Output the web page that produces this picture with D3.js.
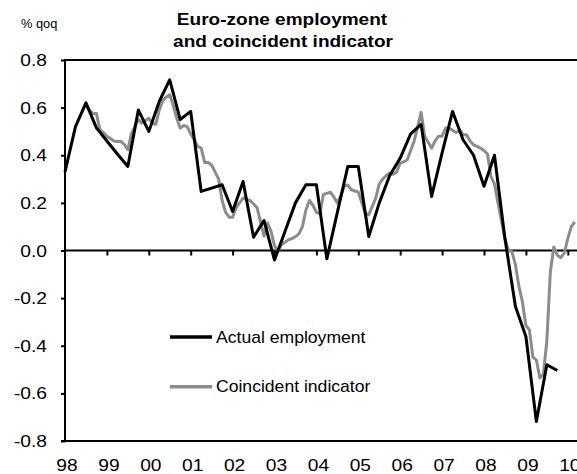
<!DOCTYPE html>
<html>
<head>
<meta charset="utf-8">
<script src="https://cdn.jsdelivr.net/npm/d3@7/dist/d3.min.js"></script>
<style>
  body { margin: 0; background: #fff; }
  text { font-family: "Liberation Sans", Arial, sans-serif; fill: #000; }
</style>
</head>
<body>
<div id="chart"></div>
<script>
// year labels on the x axis, one per January
const yearLabels = ["98", "99", "00", "01", "02", "03", "04", "05", "06", "07", "08", "09", "10"];
const yTicks = [0.8, 0.6, 0.4, 0.2, 0.0, -0.2, -0.4, -0.6, -0.8];

// actual employment, % qoq, quarterly from 1998 Q1
const employment = [
  0.33, 0.52, 0.62, 0.515, 0.46, 0.405, 0.353, 0.59, 0.50, 0.626, 0.717, 0.55,
  0.584, 0.248, 0.262, 0.276, 0.164, 0.29, 0.056, 0.126, -0.04, 0.08, 0.2, 0.276,
  0.276, -0.035, 0.16, 0.353, 0.353, 0.059, 0.2, 0.315, 0.388, 0.49, 0.53, 0.227,
  0.41, 0.584, 0.465, 0.40, 0.27, 0.40, 0.05, -0.235, -0.361, -0.718, -0.48, -0.504
];

// coincident indicator, monthly from July 1998
const indicator = [
  0.61, 0.59, 0.575, 0.575, 0.507, 0.495, 0.48, 0.47, 0.46, 0.458, 0.458, 0.445,
  0.423, 0.49, 0.52, 0.55, 0.535, 0.545, 0.555, 0.535, 0.53, 0.59, 0.63, 0.645,
  0.654, 0.61, 0.555, 0.514, 0.525, 0.52, 0.49, 0.465, 0.437, 0.43, 0.37, 0.37,
  0.358, 0.33, 0.3, 0.21, 0.16, 0.14, 0.14, 0.18, 0.2, 0.22, 0.215, 0.21,
  0.195, 0.18, 0.12, 0.06, 0.115, 0.08, 0.02, -0.005, 0.025, 0.035, 0.045, 0.05,
  0.058, 0.07, 0.1, 0.17, 0.21, 0.19, 0.16, 0.155, 0.235, 0.24, 0.245, 0.225,
  0.2, 0.23, 0.27, 0.275, 0.255, 0.25, 0.245, 0.2, 0.155, 0.15, 0.185, 0.22,
  0.28, 0.3, 0.315, 0.325, 0.32, 0.33, 0.367, 0.372, 0.38, 0.42, 0.46, 0.52,
  0.58, 0.48, 0.455, 0.43, 0.46, 0.48, 0.48, 0.514, 0.514, 0.505, 0.495, 0.505,
  0.487, 0.486, 0.46, 0.444, 0.437, 0.43, 0.42, 0.405, 0.31, 0.28, 0.2, 0.125,
  0.05, 0.0, -0.004, -0.06, -0.15, -0.215, -0.315, -0.333, -0.448, -0.46, -0.535, -0.52,
  -0.38, -0.09, 0.015, -0.02, -0.03, -0.01, 0.05, 0.1, 0.12
];

const seriesNames = ["Actual employment", "Coincident indicator"];
const seriesColors = ["#000000", "#8c8c8c"];

const width = 577, height = 474;
const plot = { left: 65, right: 577, top: 60, bottom: 441 };

const svg = d3.select("#chart").append("svg")
  .attr("width", width)
  .attr("height", height);

const x = d3.scaleLinear().domain([1998, 2010]).range([plot.left, 567.8]);
const y = d3.scaleLinear().domain([-0.8, 0.8]).range([plot.bottom, plot.top]);

// text in the original is a bit stretched sideways, so each label gets its own x scale
function label(g, txt, tx, ty, size, anchor, bold, stretch) {
  return g.append("text")
    .attr("transform", `translate(${tx},${ty}) scale(${stretch},1)`)
    .attr("text-anchor", anchor)
    .style("font-size", size + "px")
    .style("font-weight", bold ? "bold" : "normal")
    .text(txt);
}

// title and unit
label(svg, "Euro-zone employment", 282, 25, 17, "middle", true, 1.12);
label(svg, "and coincident  indicator", 283, 46.5, 17, "middle", true, 1.12);
label(svg, "% qoq", 21, 28, 13.5, "start", false, 0.95);

// y axis with ticks to the left
const yAxis = svg.append("g")
  .attr("transform", `translate(${plot.left},0)`)
  .call(d3.axisLeft(y).tickValues(yTicks).tickSize(4).tickFormat(""));
yAxis.select(".domain").remove();
yAxis.selectAll(".tick line").attr("stroke", "#000").attr("stroke-width", 2);

// plain hyphen for negatives, as in the original
yTicks.forEach(v => {
  label(svg, v.toFixed(1), 47, y(v) + 6, 16, "end", false, 1.2);
});

// frame lines: left axis, top and bottom
svg.append("line").attr("x1", plot.left).attr("x2", plot.left).attr("y1", plot.top - 1).attr("y2", plot.bottom + 1)
  .attr("stroke", "#000").attr("stroke-width", 2);
svg.append("line").attr("x1", plot.left).attr("x2", plot.right).attr("y1", plot.top).attr("y2", plot.top)
  .attr("stroke", "#000").attr("stroke-width", 2);
svg.append("line").attr("x1", plot.left - 4).attr("x2", plot.right).attr("y1", plot.bottom).attr("y2", plot.bottom)
  .attr("stroke", "#000").attr("stroke-width", 2);

// x axis on the zero line, ticks pointing down
const years = d3.range(1999, 2011);
const xAxis = svg.append("g")
  .attr("transform", `translate(0,${y(0)})`)
  .call(d3.axisBottom(x).tickValues(years).tickSize(5).tickFormat(""));
xAxis.select(".domain").remove();
xAxis.selectAll(".tick line").attr("stroke", "#000").attr("stroke-width", 2);
svg.append("line").attr("x1", plot.left).attr("x2", plot.right).attr("y1", y(0)).attr("y2", y(0))
  .attr("stroke", "#000").attr("stroke-width", 2);

yearLabels.forEach((t, i) => {
  label(svg, t, x(1998 + i) + 2, 470.5, 16, "middle", false, 1.2);
});

// series
const empLine = d3.line()
  .x((d, i) => x(1998 + i / 4))
  .y(d => y(d));
const indLine = d3.line()
  .x((d, i) => x(1998.5 + i / 12))
  .y(d => y(d));

svg.append("path").datum(indicator)
  .attr("d", indLine)
  .attr("fill", "none")
  .attr("stroke", seriesColors[1])
  .attr("stroke-width", 3)
  .attr("stroke-linejoin", "round");

svg.append("path").datum(employment)
  .attr("d", empLine)
  .attr("fill", "none")
  .attr("stroke", seriesColors[0])
  .attr("stroke-width", 3)
  .attr("stroke-linejoin", "round");

// legend
const legendY = [337, 386.7];
seriesNames.forEach((name, i) => {
  svg.append("line")
    .attr("x1", 170).attr("x2", 212)
    .attr("y1", legendY[i]).attr("y2", legendY[i])
    .attr("stroke", seriesColors[i])
    .attr("stroke-width", 3.5);
  label(svg, name, 216, legendY[i] + 5.5, 16, "start", false, 1.1);
});
</script>
</body>
</html>
